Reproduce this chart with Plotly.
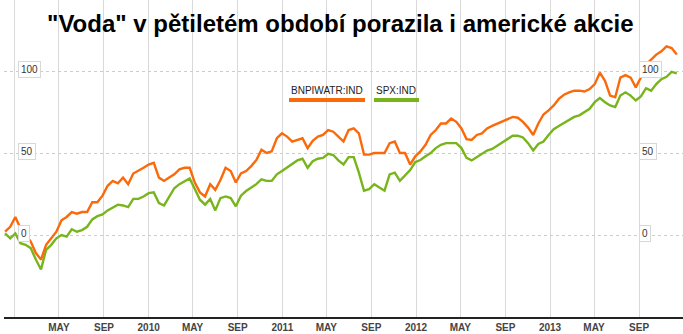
import plotly.graph_objects as go
import pandas as pd

# ---------------- data ----------------
dates = pd.date_range("2008-12-05", periods=132, freq="14D")

bnp = [2, 5, 11, 4, 0, -4, -11, -15, -6, -2,
       2, 9, 11, 14, 13, 14, 14, 20, 20, 24,
       30, 33, 31.5, 35, 31, 37.5, 39, 41, 43, 44,
       35, 33, 35, 37, 40, 41, 41, 32, 26, 23.5,
       31, 27.5, 33.5, 41, 39, 32, 37.5, 39, 42, 45.7,
       52, 50, 51, 59, 62, 60, 57, 58, 59, 53,
       57.5, 60, 61, 64, 63, 60, 57, 64, 65, 62,
       49, 49, 50, 50, 50, 56, 57, 50, 50, 43,
       48, 51, 55, 61, 64, 68, 68, 71, 69, 65,
       58.5, 58, 61, 62, 65, 66.5, 68, 69.5, 71, 72,
       71.5, 69, 65.5, 61, 68, 73.5, 76, 79, 83, 85.5,
       87, 88, 88, 87.5, 89, 92, 99, 94, 85, 84,
       96, 97.5, 96, 90, 96, 104, 107, 110, 112, 115,
       114, 110]

spx = [1, -2, 1, -5, -6, -8, -15, -21, -9, -6,
       -2, 0, -1, 3.5, 2, 3, 5, 9.5, 11.5, 12.5,
       15, 16.5, 18.5, 18, 17, 22, 22, 23.5, 25.5, 26,
       19.5, 18, 23, 28.5, 31, 33, 34.5, 28, 21.5, 18.5,
       22, 15, 22.5, 23.5, 22.5, 17.5, 24, 26.8, 28.8, 31,
       34, 33, 33, 37, 39, 41, 43, 45.5, 46.5, 41,
       45, 46.5, 47, 49.5, 48.8, 45.5, 43, 47.5, 47.5, 38,
       27, 28, 31, 29, 27, 37, 38, 33, 36, 39.6,
       44.5, 45.7, 48, 50, 53, 55, 56, 56, 56, 53,
       47, 45.5, 47.5, 49.5, 51.5, 52.5, 54.5, 56.5, 58, 60.5,
       60.5, 59.5, 56, 51.5, 55.5, 57, 61, 64.5, 66.5, 68.5,
       70.5, 72, 73, 75, 77, 81, 83.5, 81, 79, 78,
       85, 87, 85, 82, 84.5, 89.5, 88, 92, 95, 96.5,
       99.5, 98.5]

series_names = ["BNPIWATR:IND", "SPX:IND"]
tick_dates = ["2009-01-01", "2009-05-01", "2009-09-01", "2010-01-01", "2010-05-01",
              "2010-09-01", "2011-01-01", "2011-05-01", "2011-09-01", "2012-01-01",
              "2012-05-01", "2012-09-01", "2013-01-01", "2013-05-01", "2013-09-01"]
tick_text = ["", "MAY", "SEP", "2010", "MAY", "SEP", "2011", "MAY", "SEP", "2012",
             "MAY", "SEP", "2013", "MAY", "SEP"]
y_ticks = [0, 50, 100]
title = '"Voda" v pětiletém období porazila i americké akcie'

# ---------------- style ----------------
ORANGE = "#fa6a0a"
GREEN = "#78b51c"
FONT = "Liberation Sans, Arial, sans-serif"
W, H = 683, 334
ML, MR, MT, MB = 4, 0, 0, 17
PW, PH = W - ML - MR, H - MT - MB


def px(x):
    return (x - ML) / PW


def py(y):
    return (H - MB - y) / PH


fig = go.Figure()
fig.add_trace(go.Scatter(x=dates, y=spx, mode="lines", name=series_names[1],
                         line=dict(color=GREEN, width=2.4), hoverinfo="skip"))
fig.add_trace(go.Scatter(x=dates, y=bnp, mode="lines", name=series_names[0],
                         line=dict(color=ORANGE, width=2.4), hoverinfo="skip"))

annotations = []
# title
annotations.append(dict(text=title, xref="paper", yref="paper", x=px(340), y=py(24),
                        xanchor="center", yanchor="middle", showarrow=False,
                        font=dict(family=FONT, size=24, color="#000", weight=700)))
# y labels (boxes) on left and right
for v in y_ticks:
    for xl in (18, 639):
        annotations.append(dict(text=str(v), xref="paper", yref="y", x=px(xl), y=v,
                                xanchor="left", yanchor="middle", yshift=2,
                                showarrow=False, bgcolor="#fff", bordercolor="#d8d8d8",
                                borderwidth=1, borderpad=2,
                                font=dict(family=FONT, size=10, color="#333")))
# legend
leg = [(series_names[0], ORANGE, 289, 365), (series_names[1], GREEN, 374, 419)]
shapes = []
for name, col, x0, x1 in leg:
    annotations.append(dict(text=name, xref="paper", yref="paper", x=px((x0 + x1) / 2),
                            y=py(90.5), xanchor="center", yanchor="middle", showarrow=False,
                            font=dict(family=FONT, size=10, color="#222")))
    shapes.append(dict(type="rect", xref="paper", yref="paper", x0=px(x0), x1=px(x1),
                       y0=py(102), y1=py(98), fillcolor=col, line=dict(width=0)))

fig.update_layout(
    width=W, height=H, autosize=False,
    margin=dict(l=ML, r=MR, t=MT, b=MB, pad=0),
    paper_bgcolor="#fff", plot_bgcolor="#fff",
    showlegend=False,
    annotations=annotations, shapes=shapes,
    xaxis=dict(range=["2008-12-02", "2013-12-30"], tickvals=tick_dates, ticktext=tick_text,
               showgrid=True, gridcolor="#d9d9d9", gridwidth=1, zeroline=False,
               showline=True, linecolor="#222", linewidth=1.5, ticks="",
               tickfont=dict(family=FONT, size=10, color="#444", weight=700)),
    yaxis=dict(range=[-50, 143.3], tickvals=y_ticks, showticklabels=False,
               showgrid=True, gridcolor="#cccccc", griddash="dot", gridwidth=1,
               zeroline=False, showline=False, ticks=""),
)

fig.write_html("out.html", config={"displayModeBar": False})
